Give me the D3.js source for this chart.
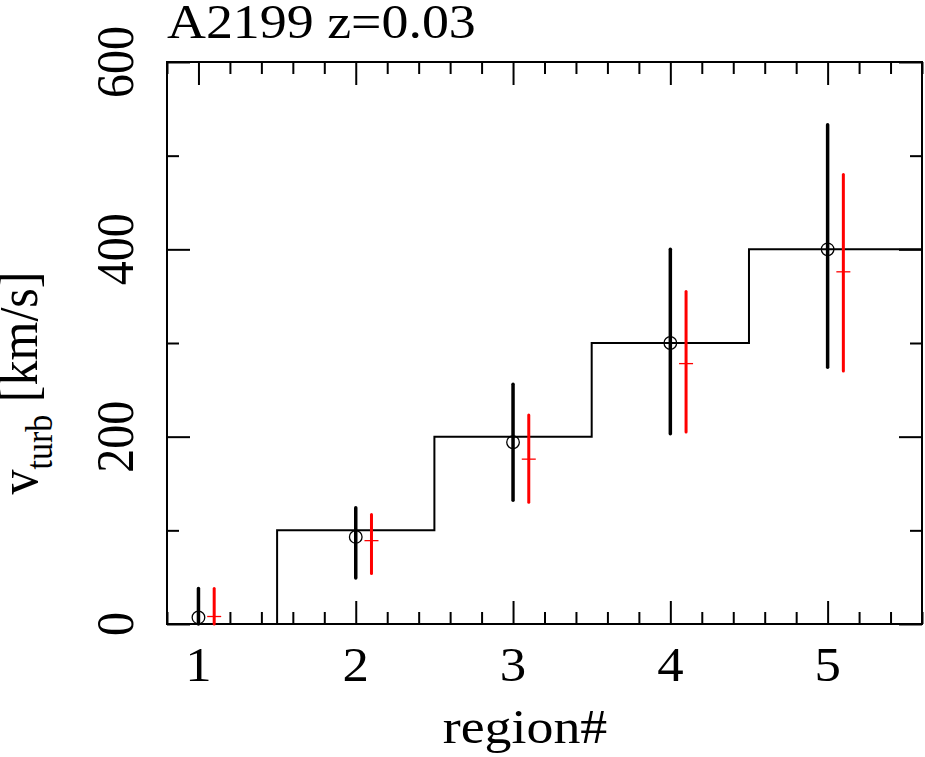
<!DOCTYPE html>
<html>
<head>
<meta charset="utf-8">
<script src="https://cdn.jsdelivr.net/npm/d3@7"></script>
<style>
  body { margin: 0; background: #fff; }
  text { font-family: "Liberation Serif", "Times New Roman", serif; fill: #000; }
</style>
</head>
<body>
<div id="chart"></div>
<script>
// ------- data --------------------------------

var blackX = [1, 2, 3, 4, 5];
var blackV = [7, 93, 194, 300, 400];
var blackLo = [0, 49, 132, 203, 274];
var blackHi = [38, 124, 256, 400, 533];

var redX = [1.1, 2.1, 3.1, 4.1, 5.1];
var redV = [8, 89, 176, 278, 376];
var redLo = [0, 54, 130, 205, 270];
var redHi = [38, 117, 223, 355, 480];

// input turbulence model (step function)
var stepEdges = [0.8, 1.5, 2.5, 3.5, 4.5, 5.6];
var stepVals = [0, 100, 200, 300, 400];

var xTickVals = [1, 2, 3, 4, 5];
var yTickVals = [0, 200, 400, 600];
var yMinorVals = [100, 300, 500];

var title = "A2199 z=0.03";

// ------- setup -----------

var W = 925, H = 757;
var L = 167, R = 922, T = 62, B = 624;
var SX = 1.1; // the picture is a bit stretched sideways

var svg = d3.select("#chart").append("svg")
  .attr("width", W).attr("height", H);

var x = d3.scaleLinear().domain([0.8, 5.6]).range([L, R]);
var y = d3.scaleLinear().domain([0, 600]).range([B, T]);

// ------- ticks (inward, on all four sides) -----------

function tickAxis(axis, tx, ty) {
  var g = svg.append("g").attr("transform", "translate(" + tx + "," + ty + ")").call(axis);
  g.select(".domain").remove();
  g.selectAll("line").attr("stroke", "#000").attr("stroke-width", 2);
  g.selectAll("text").remove();
}

var xMinor = x.ticks(24).filter(function(d){ return Math.abs(d - Math.round(d)) > 1e-6; });

tickAxis(d3.axisBottom(x).tickValues(xTickVals).tickSize(-23), 0, B);
tickAxis(d3.axisBottom(x).tickValues(xMinor).tickSize(-12), 0, B);
tickAxis(d3.axisTop(x).tickValues(xTickVals).tickSize(-23), 0, T);
tickAxis(d3.axisTop(x).tickValues(xMinor).tickSize(-12), 0, T);
tickAxis(d3.axisLeft(y).tickValues(yTickVals).tickSize(-23), L, 0);
tickAxis(d3.axisLeft(y).tickValues(yMinorVals).tickSize(-12), L, 0);
tickAxis(d3.axisRight(y).tickValues(yTickVals).tickSize(-23), R, 0);
tickAxis(d3.axisRight(y).tickValues(yMinorVals).tickSize(-12), R, 0);

// frame
svg.append("rect")
  .attr("x", L).attr("y", T).attr("width", R - L).attr("height", B - T)
  .attr("fill", "none").attr("stroke", "#000").attr("stroke-width", 2);

// ------- step line -----------

var stepPts = stepVals.map(function(v, i){ return [stepEdges[i], v]; });
stepPts.push([stepEdges[stepEdges.length - 1], stepVals[stepVals.length - 1]]);

svg.append("path")
  .datum(stepPts)
  .attr("fill", "none").attr("stroke", "#000").attr("stroke-width", 2)
  .attr("d", d3.line().curve(d3.curveStepAfter)
    .x(function(d){ return x(d[0]); })
    .y(function(d){ return y(d[1]); }));

// ------- error bars and markers -----------

var black = blackX.map(function(d, i){ return {x: d, v: blackV[i], lo: blackLo[i], hi: blackHi[i]}; });
var red = redX.map(function(d, i){ return {x: d, v: redV[i], lo: redLo[i], hi: redHi[i]}; });

svg.selectAll("line.bk").data(black).enter().append("line").classed("bk", true)
  .attr("x1", function(d){ return x(d.x); }).attr("x2", function(d){ return x(d.x); })
  .attr("y1", function(d){ return y(d.lo); }).attr("y2", function(d){ return y(d.hi); })
  .attr("stroke", "#000").attr("stroke-width", 3.5).attr("stroke-linecap", "round");

svg.selectAll("circle.bk").data(black).enter().append("circle").classed("bk", true)
  .attr("cx", function(d){ return x(d.x); }).attr("cy", function(d){ return y(d.v); })
  .attr("r", 6.3).attr("fill", "none").attr("stroke", "#000").attr("stroke-width", 1.3);

svg.selectAll("line.rd").data(red).enter().append("line").classed("rd", true)
  .attr("x1", function(d){ return x(d.x); }).attr("x2", function(d){ return x(d.x); })
  .attr("y1", function(d){ return y(d.lo); }).attr("y2", function(d){ return y(d.hi); })
  .attr("stroke", "#ff0000").attr("stroke-width", 3).attr("stroke-linecap", "round");

svg.selectAll("line.rdp").data(red).enter().append("line").classed("rdp", true)
  .attr("x1", function(d){ return x(d.x) - 7; }).attr("x2", function(d){ return x(d.x) + 7; })
  .attr("y1", function(d){ return y(d.v); }).attr("y2", function(d){ return y(d.v); })
  .attr("stroke", "#ff0000").attr("stroke-width", 1.3);

// ------- texts -----------

svg.append("text")
  .attr("transform", "translate(" + L + ",38) scale(" + SX + ",1)")
  .attr("font-size", 49)
  .text(title);

svg.selectAll("text.xl").data(xTickVals).enter().append("text").classed("xl", true)
  .attr("transform", function(d){ return "translate(" + x(d) + ",681) scale(" + SX + ",1)"; })
  .attr("text-anchor", "middle").attr("font-size", 48)
  .text(function(d){ return d; });

svg.selectAll("text.yl").data(yTickVals).enter().append("text").classed("yl", true)
  .attr("transform", function(d){ return "translate(133," + y(d) + ") scale(" + SX + ",1) rotate(-90)"; })
  .attr("text-anchor", "middle").attr("font-size", 48)
  .text(function(d){ return d; });

svg.append("text")
  .attr("transform", "translate(525,743) scale(" + SX + ",1)")
  .attr("text-anchor", "middle").attr("font-size", 49)
  .text("region#");

var yl = svg.append("text")
  .attr("transform", "translate(37,383) scale(" + SX + ",1) rotate(-90)")
  .attr("text-anchor", "middle").attr("font-size", 50);
yl.append("tspan").text("v");
yl.append("tspan").attr("font-size", 34).attr("dy", 14).text("turb");
yl.append("tspan").attr("dy", -14).text(" [km/s]");
</script>
</body>
</html>
